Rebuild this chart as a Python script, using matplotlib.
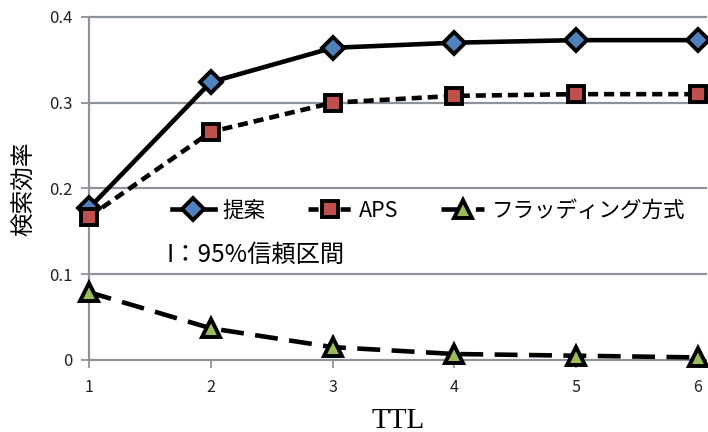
import matplotlib
matplotlib.use("Agg")
import matplotlib.pyplot as plt

plt.rcParams['font.family'] = ['Noto Sans CJK JP', 'DejaVu Sans']

ttl = [1, 2, 3, 4, 5, 6]
teian = [0.177, 0.324, 0.364, 0.370, 0.373, 0.373]
aps = [0.167, 0.266, 0.300, 0.308, 0.310, 0.310]
flooding = [0.079, 0.037, 0.015, 0.007, 0.005, 0.003]
yticks = [0, 0.1, 0.2, 0.3, 0.4]
ytick_labels = ["0", "0.1", "0.2", "0.3", "0.4"]

fig = plt.figure(figsize=(7.08, 4.32), dpi=100)
ax = fig.add_axes([0.1257, 0.1667, 0.872, 0.794])

for y in yticks:
    ax.axhline(y, color='#8e939b', lw=1.6, zorder=0, clip_on=False)

ms = 13.5
mew = 2.8
ax.plot(ttl, teian, color='black', lw=3.3, ls='-', marker='D', ms=ms - 2,
        mfc='#4f81bd', mec='black', mew=mew, label='提案', clip_on=False, zorder=3)
ax.plot(ttl, aps, color='black', lw=3.3, ls=(0, (2.2, 1.3)), marker='s', ms=ms - 1.5,
        mfc='#c0504d', mec='black', mew=mew, label='APS', clip_on=False, zorder=3)
ax.plot(ttl, flooding, color='black', lw=3.3, ls=(0, (5, 2.5)), marker='^', ms=ms,
        mfc='#9bbb59', mec='black', mew=mew, label='フラッディング方式', clip_on=False, zorder=3)

ax.set_xlim(1, 6.07)
ax.set_ylim(0, 0.4)
ax.set_xticks(ttl)
ax.set_xticklabels([str(t) for t in ttl], fontsize=11.5, color='#222222')
ax.set_yticks(yticks)
ax.set_yticklabels(ytick_labels, fontsize=12, color='#222222')
ax.tick_params(axis='x', length=6, width=1.3, color='#8e939b', pad=8, direction='out')
ax.tick_params(axis='y', length=6, width=1.3, color='#8e939b', pad=6, direction='out')

for side in ['top', 'right', 'bottom']:
    ax.spines[side].set_visible(False)
ax.spines['left'].set_color('#8e939b')
ax.spines['left'].set_linewidth(1.6)

ax.set_xlabel('TTL', fontsize=21, family='Liberation Serif', labelpad=8)
ax.set_ylabel('検索効率', fontsize=17)
ax.yaxis.set_label_coords(-0.085, 0.5)

leg = ax.legend(loc='center left', bbox_to_anchor=(0.12, 0.435), ncol=3, frameon=False,
                fontsize=15.5, handlelength=2.0, columnspacing=2.0, handletextpad=0.35,
                borderaxespad=0)
ax.text(0.125, 0.305, 'I：95%信頼区間', transform=ax.transAxes, fontsize=17.5,
        va='center', ha='left')

fig.savefig('out.png', dpi=100)
